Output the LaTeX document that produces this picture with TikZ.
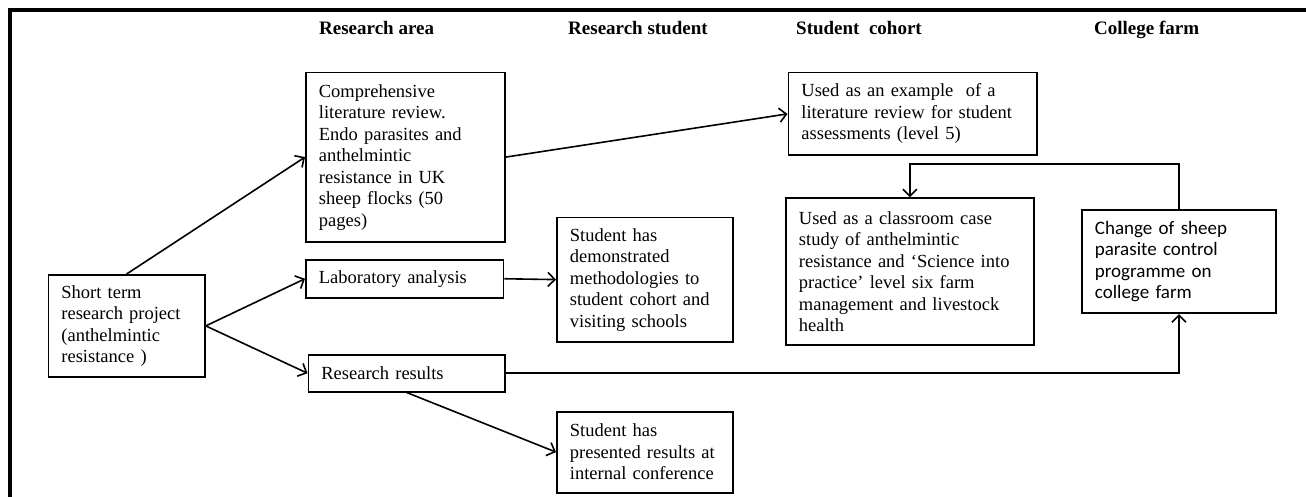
\documentclass[tikz,border=0pt]{standalone}
\usepackage{fontspec}
\setmainfont{Liberation Serif}
\newfontfamily\carl{Carlito}
\usetikzlibrary{arrows.meta}
\begin{document}
\begin{tikzpicture}[x=1pt,y=-1pt,
  bx/.style={draw, line width=1.8pt, anchor=north west, align=left, inner xsep=13pt, inner ysep=2pt, font=\fontsize{18.5}{21.5}\selectfont},
  hd/.style={anchor=base west, inner sep=0pt, font=\fontsize{19}{22}\selectfont\bfseries},
  ar/.style={line width=1.6pt, -{Straight Barb[length=7pt,width=14pt]}},
  ln/.style={line width=1.6pt}]
\useasboundingbox (0,0) rectangle (1306,497);
% frame
\draw[line width=4pt] (10,497) -- (10,10.5) -- (1306,10.5);
% headers
\node[hd] (h1) at (319,34.5) {Research area};
\node[hd] (h2) at (568,34.5) {Research student};
\node[hd] (h3) at (796,34.5) {Student\ \ cohort};
\node[hd] (h4) at (1094,34.5) {College farm};
% boxes
\node[bx, text width=130.5pt, minimum height=102pt] (short) at (47.5,274)
  {Short term\\research project\\(anthelmintic\\resistance )};
\node[bx, text width=173pt, minimum height=169pt] (comp) at (305,71.7)
  {Comprehensive\\literature review.\\Endo parasites and\\anthelmintic\\resistance in UK\\sheep flocks (50\\pages)};
\node[bx, text width=171.5pt, minimum height=37.7pt] (lab) at (305,259)
  {Laboratory analysis};
\node[bx, text width=170.5pt, minimum height=36.7pt] (rr) at (307.5,354)
  {Research results};
\node[bx, text width=149.7pt, minimum height=124pt] (demo) at (556,216.7)
  {Student has\\demonstrated\\methodologies to\\student cohort and\\visiting schools};
\node[bx, text width=149.7pt, minimum height=81pt] (pres) at (556,410.7)
  {Student has\\presented results at\\internal conference};
\node[bx, text width=222.5pt, minimum height=82.6pt] (ex) at (787.5,71.7)
  {Used as an example\ \ of a\\literature review for student\\assessments (level 5)};
\node[bx, text width=222pt, minimum height=146.7pt] (class) at (785,197.3)
  {Used as a classroom case\\study of anthelmintic\\resistance and ‘Science into\\practice’ level six farm\\management and livestock\\health};
\node[bx, text width=168pt, minimum height=103pt, font=\carl\fontsize{19}{21.5}\selectfont] (change) at (1081,209.3)
  {Change of sheep\\parasite control\\programme on\\college farm};
% connectors
\draw[ar] (short.north) -- (comp.west);
\draw[ar] (short.east) -- (lab.west);
\draw[ar] (short.east) -- (rr.west);
\draw[ar] (comp.east) -- (ex.west);
\draw[ar] (lab.east) -- (demo.west);
\draw[ar] (rr.south) -- (pres.west);
\draw[ar] (rr.east) -| (change.south);
\draw[ar] (change.north) -- ++(0,-45) -| (class.north);
\end{tikzpicture}
\end{document}
